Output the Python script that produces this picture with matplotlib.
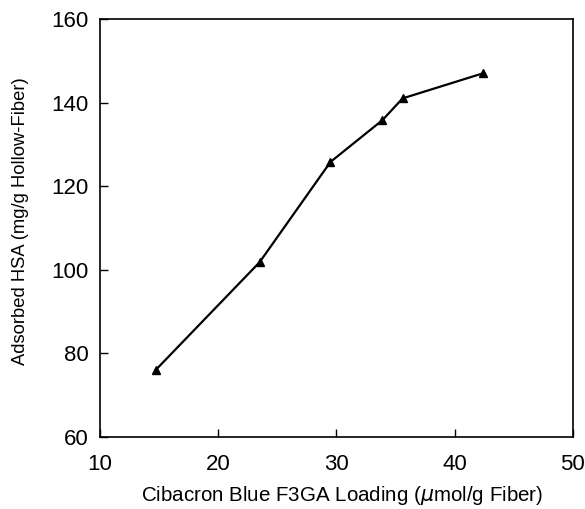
import matplotlib
matplotlib.use("Agg")
import matplotlib.pyplot as plt

# data
loading = [14.7, 23.5, 29.5, 33.9, 35.6, 42.4]
adsorbed = [76, 101.8, 125.8, 135.8, 141.0, 147.0]

plt.rcParams['font.family'] = ['Liberation Sans', 'DejaVu Sans']

fig = plt.figure(figsize=(5.85, 5.09), dpi=100)
ax = fig.add_axes([0.171, 0.1415, 0.808, 0.8212])

ax.plot(loading, adsorbed, 'k-', marker='^', markersize=6, linewidth=1.6)

ax.set_xlim(10, 50)
ax.set_ylim(60, 160)
ax.set_xticks([10, 20, 30, 40, 50])
ax.set_yticks([60, 80, 100, 120, 140, 160])
ax.tick_params(direction='in', length=6, width=1.0, labelsize=16, colors='black')
ax.tick_params(axis='x', pad=12)
ax.tick_params(axis='y', pad=8)
for s in ax.spines.values():
    s.set_linewidth(1.2)

ax.set_xlabel('Cibacron Blue F3GA Loading ($\\mu$mol/g Fiber)', fontsize=14.8)
ax.set_ylabel('Adsorbed HSA (mg/g Hollow-Fiber)', fontsize=13.2)
ax.xaxis.set_label_coords(0.513, -0.113)
ax.yaxis.set_label_coords(-0.15, 0.516)

fig.savefig('out.png', dpi=100)
